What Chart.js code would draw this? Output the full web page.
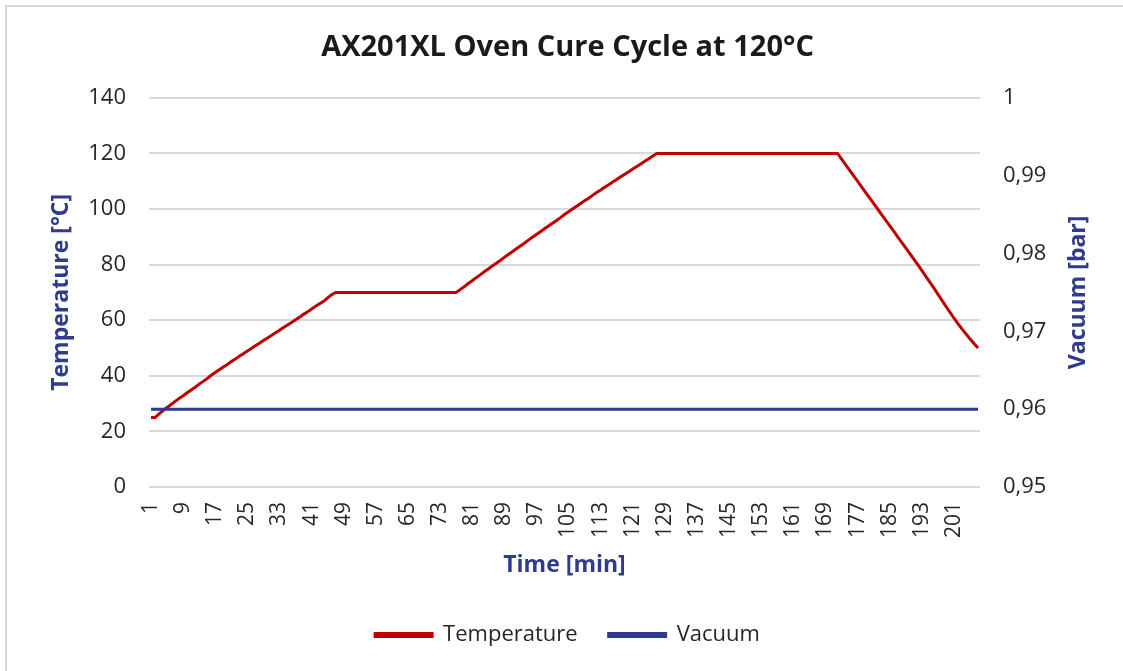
<!DOCTYPE html>
<html>
<head>
<meta charset="utf-8">
<script src="https://cdn.jsdelivr.net/npm/chart.js@4.4.1/dist/chart.umd.min.js"></script>
<style>
  html, body { margin: 0; padding: 0; background: #ffffff; }
  #wrap { position: relative; width: 1123px; height: 671px; overflow: hidden; background: #ffffff; }
  #frame { position: absolute; left: 5px; top: 5px; width: 1300px; height: 900px; border: 2px solid #d9d9d9; box-sizing: border-box; }
  #c { position: absolute; left: 0; top: 0; }
</style>
</head>
<body>
<div id="wrap">
  <div id="frame"></div>
  <canvas id="c" width="1123" height="671"></canvas>
</div>
<script>
// ---- Data ----
const chartTitle = 'AX201XL Oven Cure Cycle at 120°C';
const xAxisTitle = 'Time [min]';
const yAxisTitle = 'Temperature [°C]';
const y2AxisTitle = 'Vacuum [bar]';

// minutes 1..207 (category axis)
const minutes = [];
for (let m = 1; m <= 207; m++) minutes.push(String(m));

// Temperature segments (°C)
const tempRamp1 = [25, 25, 26.3, 27.5, 28.6, 29.7, 30.8, 31.8, 32.8, 33.9,
  34.9, 35.9, 37, 38, 39, 40.2, 41.2, 42.2, 43.2, 44.1,
  45.1, 46, 47, 47.9, 48.9, 49.8, 50.8, 51.7, 52.7, 53.6,
  54.5, 55.5, 56.4, 57.4, 58.3, 59.2, 60.2, 61.1, 62.1, 63,
  64, 65, 65.9, 66.8, 68, 69.2, 70];
const tempHold70 = [70, 70, 70, 70, 70, 70, 70, 70, 70, 70,
  70, 70, 70, 70, 70, 70, 70, 70, 70, 70,
  70, 70, 70, 70, 70, 70, 70, 70, 70, 70];
const tempRamp2 = [71, 72, 73.2, 74.2, 75.3, 76.3, 77.4, 78.4, 79.5, 80.5,
  81.5, 82.6, 83.6, 84.6, 85.7, 86.7, 87.7, 88.8, 89.8, 90.8,
  91.8, 92.9, 93.9, 94.9, 95.9, 96.9, 98, 99, 100, 101,
  102, 103, 103.9, 104.9, 105.9, 106.8, 107.8, 108.7, 109.7, 110.6,
  111.6, 112.5, 113.4, 114.4, 115.3, 116.2, 117.2, 118.1, 119.1, 120];
const tempHold120 = [120, 120, 120, 120, 120, 120, 120, 120, 120, 120,
  120, 120, 120, 120, 120, 120, 120, 120, 120, 120,
  120, 120, 120, 120, 120, 120, 120, 120, 120, 120,
  120, 120, 120, 120, 120, 120, 120, 120, 120, 120,
  120, 120, 120, 120, 120];
const tempCool = [118, 116, 114, 112, 110, 108, 106, 104, 102, 100,
  98, 96, 94, 92, 90, 88, 86, 84, 82, 80,
  77.9, 75.8, 73.7, 71.6, 69.4, 67.2, 65, 62.9, 60.8, 58.8,
  56.9, 55.1, 53.3, 51.6, 50];
const temperature = [...tempRamp1, ...tempHold70, ...tempRamp2, ...tempHold120, ...tempCool];

// Vacuum (bar)
const vacuum = [
  0.96,0.96,0.96,0.96,0.96,0.96,0.96,0.96,0.96,0.96,0.96,0.96,0.96,0.96,0.96,0.96,0.96,0.96,0.96,0.96,0.96,0.96,0.96,
  0.96,0.96,0.96,0.96,0.96,0.96,0.96,0.96,0.96,0.96,0.96,0.96,0.96,0.96,0.96,0.96,0.96,0.96,0.96,0.96,0.96,0.96,0.96,
  0.96,0.96,0.96,0.96,0.96,0.96,0.96,0.96,0.96,0.96,0.96,0.96,0.96,0.96,0.96,0.96,0.96,0.96,0.96,0.96,0.96,0.96,0.96,
  0.96,0.96,0.96,0.96,0.96,0.96,0.96,0.96,0.96,0.96,0.96,0.96,0.96,0.96,0.96,0.96,0.96,0.96,0.96,0.96,0.96,0.96,0.96,
  0.96,0.96,0.96,0.96,0.96,0.96,0.96,0.96,0.96,0.96,0.96,0.96,0.96,0.96,0.96,0.96,0.96,0.96,0.96,0.96,0.96,0.96,0.96,
  0.96,0.96,0.96,0.96,0.96,0.96,0.96,0.96,0.96,0.96,0.96,0.96,0.96,0.96,0.96,0.96,0.96,0.96,0.96,0.96,0.96,0.96,0.96,
  0.96,0.96,0.96,0.96,0.96,0.96,0.96,0.96,0.96,0.96,0.96,0.96,0.96,0.96,0.96,0.96,0.96,0.96,0.96,0.96,0.96,0.96,0.96,
  0.96,0.96,0.96,0.96,0.96,0.96,0.96,0.96,0.96,0.96,0.96,0.96,0.96,0.96,0.96,0.96,0.96,0.96,0.96,0.96,0.96,0.96,0.96,
  0.96,0.96,0.96,0.96,0.96,0.96,0.96,0.96,0.96,0.96,0.96,0.96,0.96,0.96,0.96,0.96,0.96,0.96,0.96,0.96,0.96,0.96,0.96
];

// Tick labels
const leftTickLabels = ['0', '20', '40', '60', '80', '100', '120', '140'];
const rightTickLabels = ['0,95', '0,96', '0,97', '0,98', '0,99', '1'];
const xLabelEvery = 8;

// ---- Styling ----
const RED = '#C00000';
const NAVY = '#2E3A8C';
const TITLE_NAVY = '#2F3B8C';
const TXT = '#262626';
const FONT = "'Open Sans', 'DejaVu Sans', sans-serif";

const rightTitlePlugin = {
  id: 'rightTitle',
  afterDraw(chart) {
    const ctx = chart.ctx;
    const area = chart.chartArea;
    ctx.save();
    ctx.font = "bold 23px " + FONT;
    ctx.fillStyle = TITLE_NAVY;
    ctx.textAlign = 'center';
    ctx.textBaseline = 'middle';
    ctx.translate(1078, (area.top + area.bottom) / 2);
    ctx.rotate(-Math.PI / 2);
    ctx.fillText(y2AxisTitle, 0, 0);
    ctx.restore();
  }
};

new Chart(document.getElementById('c'), {
  type: 'line',
  data: {
    labels: minutes,
    datasets: [
      {
        label: 'Temperature',
        data: temperature,
        yAxisID: 'y',
        borderColor: RED,
        backgroundColor: RED,
        borderWidth: 3,
        pointRadius: 0,
        tension: 0,
        order: 1
      },
      {
        label: 'Vacuum',
        data: vacuum,
        yAxisID: 'y1',
        borderColor: NAVY,
        backgroundColor: NAVY,
        borderWidth: 3,
        pointRadius: 0,
        tension: 0,
        order: 0
      }
    ]
  },
  options: {
    responsive: false,
    animation: false,
    devicePixelRatio: 1,
    layout: { padding: { left: 12, right: 0, top: 0, bottom: 15 } },
    plugins: {
      title: {
        display: true,
        text: chartTitle,
        color: '#1a1a1a',
        font: { family: FONT, size: 29, weight: 'bold' },
        padding: { top: 30, bottom: 33 }
      },
      legend: {
        display: true,
        position: 'bottom',
        labels: {
          color: TXT,
          font: { family: FONT, size: 22 },
          boxWidth: 57,
          boxHeight: 3,
          padding: 31,
          sort: (a, b) => a.datasetIndex - b.datasetIndex
        }
      },
      tooltip: { enabled: false }
    },
    scales: {
      x: {
        type: 'category',
        offset: true,
        grid: { display: false, drawTicks: false },
        border: { display: false },
        ticks: {
          autoSkip: false,
          maxRotation: 90,
          minRotation: 90,
          padding: 15,
          color: TXT,
          font: { family: FONT, size: 21 },
          callback: (v, i) => (i % xLabelEvery === 0 ? minutes[i] : '')
        },
        title: {
          display: true,
          text: xAxisTitle,
          color: TITLE_NAVY,
          font: { family: FONT, size: 23, weight: 'bold' },
          padding: { top: 0, bottom: 14 }
        },
        afterFit: (s) => { s.height = 106; }
      },
      y: {
        position: 'left',
        min: 0,
        max: 140,
        grid: { color: '#d9d9d9', lineWidth: 2, drawTicks: false },
        border: { display: false },
        ticks: {
          stepSize: 20,
          padding: 23,
          color: TXT,
          font: { family: FONT, size: 22 },
          callback: (v, i) => leftTickLabels[i]
        },
        title: {
          display: true,
          text: yAxisTitle,
          color: TITLE_NAVY,
          font: { family: FONT, size: 23, weight: 'bold' },
          padding: { top: 36, bottom: 0 }
        },
        afterFit: (s) => { s.width = 137; }
      },
      y1: {
        position: 'right',
        min: 0.95,
        max: 1,
        grid: { display: false, drawTicks: false },
        border: { display: false },
        ticks: {
          stepSize: 0.01,
          padding: 23,
          color: TXT,
          font: { family: FONT, size: 22 },
          callback: (v, i) => rightTickLabels[i]
        },
        afterFit: (s) => { s.width = 143; }
      }
    }
  },
  plugins: [rightTitlePlugin]
});
</script>
</body>
</html>
